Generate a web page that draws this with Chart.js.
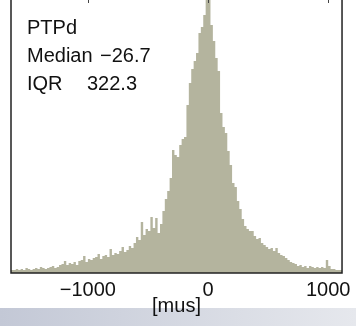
<!DOCTYPE html>
<html>
<head>
<meta charset="utf-8">
<script src="https://cdn.jsdelivr.net/npm/chart.js@4"></script>
<style>
  html, body { margin: 0; padding: 0; background: #fff; }
  #wrap { position: relative; width: 356px; height: 326px; overflow: hidden; background: #fff; }
  #band { position: absolute; left: 0; top: 308px; width: 356px; height: 18px;
          background: linear-gradient(to right, #c3c8d6, #e6e8ed); }
  #chart { position: absolute; left: 0; top: -6px; }
</style>
</head>
<body>
<div id="wrap">
  <div id="band"></div>
  <canvas id="chart" width="356" height="332"></canvas>
</div>
<script>
// Histogramme PTPd : bornes des classes et effectifs (unités arbitraires)
const binStart = -1640;
const binWidth = 20;
const counts = [
  2, 3, 3, 4, 3, 4, 3, 5, 4, 3, 4,
  5, 4, 6, 5, 4, 5, 6, 7, 5, 6,
  8, 9, 12, 8, 10, 9, 11, 8, 12, 13,
  17, 11, 14, 13, 15, 16, 19, 14, 17, 18,
  16, 24, 18, 20, 19, 22, 26, 21, 23, 27, 25,
  30, 36, 33, 51, 38, 44, 42, 56, 45, 55, 40, 49, 62, 74, 82, 95, 123, 118, 116,
  128, 134, 136, 168, 190, 204, 212, 220, 240, 246,
  258, 300, 310, 248, 232, 215, 202, 160, 146, 140,
  122, 108, 90, 86, 72, 64, 54, 47, 44, 42,
  42, 37, 34, 35, 30, 28, 26, 24, 25, 22,
  25, 20, 18, 17, 15, 13, 11, 10, 9, 7,
  8, 6, 7, 5, 7, 6, 5, 6, 5, 6,
  5, 13, 7, 4, 4, 3, 3
];
const xMin = -1640;
const xMax = 1115;
const yMax = 279;
const tickValues = [-1000, 0, 1000];
const axisTitle = '[mus]';
const infoLabels = ['PTPd', 'Median', 'IQR'];
const infoValues = ['', '\u221226.7', '322.3'];

// Points en escalier (bord gauche de chaque classe + bord droit final)
const points = counts.map((c, i) => ({ x: binStart + i * binWidth, y: c }));
points.push({ x: binStart + counts.length * binWidth, y: counts[counts.length - 1] });

const fontFamily = '"Liberation Sans", Arial, Helvetica, sans-serif';

// Cadre + petites graduations en haut
const framePlugin = {
  id: 'frame',
  afterDatasetsDraw(chart) {
    const { ctx, chartArea: a, scales } = chart;
    ctx.save();
    ctx.strokeStyle = '#222';
    ctx.lineWidth = 1.5;
    ctx.beginPath();
    ctx.moveTo(a.left, a.top);
    ctx.lineTo(a.left, a.bottom);
    ctx.lineTo(a.right, a.bottom);
    ctx.lineTo(a.right, a.top);
    ctx.stroke();
    ctx.lineWidth = 1;
    ctx.strokeStyle = '#444';
    tickValues.forEach(v => {
      const px = Math.round(scales.x.getPixelForValue(v)) + 0.5;
      ctx.beginPath();
      ctx.moveTo(px, a.top);
      ctx.lineTo(px, a.top + 9);
      ctx.stroke();
    });
    ctx.restore();
  }
};

// Texte en haut à gauche
const infoPlugin = {
  id: 'info',
  afterDraw(chart) {
    const ctx = chart.ctx;
    ctx.save();
    ctx.fillStyle = '#111';
    ctx.font = '20px ' + fontFamily;
    ctx.textBaseline = 'alphabetic';
    const baselines = [40, 68, 96];
    const valueX = [0, 100, 87];
    infoLabels.forEach((t, i) => {
      ctx.fillText(t, 27, baselines[i]);
      if (infoValues[i]) ctx.fillText(infoValues[i], valueX[i], baselines[i]);
    });
    ctx.restore();
  }
};

new Chart(document.getElementById('chart').getContext('2d'), {
  type: 'line',
  data: {
    datasets: [{
      data: points,
      stepped: 'after',
      fill: 'origin',
      backgroundColor: '#b4b49e',
      borderWidth: 0,
      pointRadius: 0,
    }],
  },
  options: {
    responsive: false,
    animation: false,
    devicePixelRatio: 1,
    layout: { padding: { left: 11, right: 13, top: 0, bottom: 0 } },
    plugins: { legend: { display: false }, tooltip: { enabled: false } },
    scales: {
      x: {
        type: 'linear',
        min: xMin,
        max: xMax,
        afterBuildTicks: s => { s.ticks = tickValues.map(v => ({ value: v })); },
        afterFit: s => { s.height = 53; },
        grid: { display: false, drawTicks: false },
        border: { display: false },
        ticks: {
          padding: 5,
          color: '#111',
          font: { size: 20, family: fontFamily },
          maxRotation: 0,
          callback: v => v < 0 ? '\u2212' + Math.abs(v) : String(v),
        },
        title: {
          display: true,
          text: axisTitle,
          color: '#111',
          font: { size: 20, family: fontFamily },
          padding: { top: 0, bottom: 8 },
        },
      },
      y: {
        display: false,
        min: 0,
        max: yMax,
      },
    },
  },
  plugins: [framePlugin, infoPlugin],
});
</script>
</body>
</html>
